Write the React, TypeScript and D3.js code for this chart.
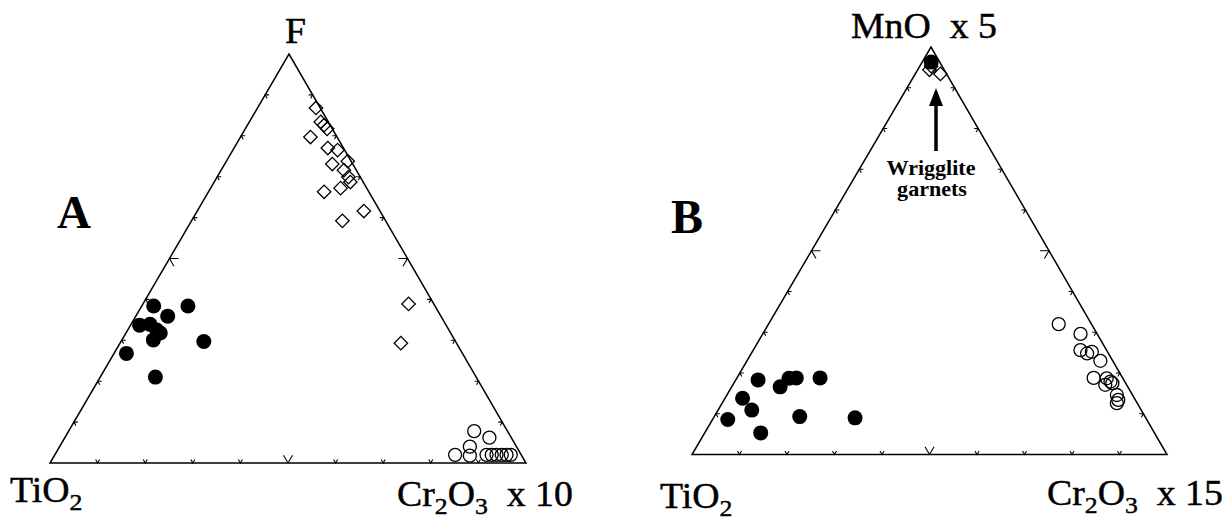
import React from "react";
import * as d3 from "d3";

// Compositions in percent: [TiO2, Cr2O3, top apex component]
// Panel A: top apex is F
const aDiamonds: number[][] = [
  [0.9, 12.3, 86.8], [1.6, 15.0, 83.4], [1.3, 16.1, 82.6], [1.1, 17.2, 81.7],
  [5.6, 14.7, 79.7], [3.3, 19.7, 77.0], [1.5, 22.0, 76.5], [0.7, 25.5, 73.8],
  [4.3, 22.6, 73.1], [2.6, 25.8, 71.6], [2.5, 27.6, 69.9], [2.7, 28.6, 68.7],
  [5.5, 27.3, 67.2], [9.4, 24.3, 66.3], [3.4, 35.0, 61.6], [9.1, 31.7, 59.2],
  [5.3, 55.8, 38.9], [11.7, 59.0, 29.3],
];
const aFilled: number[][] = [
  [59.1, 2.5, 38.4], [51.9, 9.7, 38.4], [57.4, 6.7, 35.9], [64.4, 1.9, 33.7],
  [62.1, 4.0, 33.9], [61.4, 6.1, 32.5], [61.0, 7.2, 31.8], [63.3, 6.6, 30.1],
  [52.9, 17.4, 29.7], [70.6, 2.6, 26.8], [67.4, 11.6, 21.0],
];
const aOpen: number[][] = [
  [7.0, 85.2, 7.8], [4.6, 89.2, 6.2], [9.8, 86.2, 4.0], [13.9, 84.1, 2.0],
  [10.9, 87.3, 1.8], [7.3, 90.7, 2.0], [6.2, 91.8, 2.0], [5.2, 92.8, 2.0],
  [4.1, 93.9, 2.0], [3.1, 94.9, 2.0], [2.2, 95.8, 2.0],
];

// Panel B: top apex is MnO
const bDiamonds: number[][] = [
  [2.3, 2.4, 95.3], [3.1, 2.5, 94.4], [1.3, 5.3, 93.4],
];
const bFilled: number[][] = [
  [1.8, 1.9, 96.3],
  [77.0, 4.7, 18.3], [73.2, 10.2, 16.6], [70.3, 11.0, 18.7], [68.7, 12.5, 18.8],
  [63.7, 17.5, 18.8], [82.5, 3.7, 13.8], [82.0, 7.1, 10.9], [88.2, 3.2, 8.6],
  [72.7, 18.0, 9.3], [61.2, 29.8, 9.0], [82.9, 11.8, 5.3],
];
const bOpen: number[][] = [
  [6.9, 61.1, 32.0], [3.5, 66.9, 29.6], [5.5, 68.9, 25.6], [4.5, 70.7, 24.8],
  [3.3, 71.5, 25.2], [2.6, 74.4, 23.0], [6.1, 75.1, 18.8], [3.4, 77.9, 18.7],
  [3.0, 79.1, 17.9], [2.8, 79.7, 17.5], [4.5, 78.4, 17.1], [3.3, 82.1, 14.6],
  [3.6, 83.0, 13.4], [4.3, 83.1, 12.6],
];

const tickSteps = [10, 20, 30, 40, 50, 60, 70, 80, 90];

type Pt = [number, number];
type Tri = { L: Pt; R: Pt; T: Pt };

const triA: Tri = { L: [50, 463], R: [526, 463], T: [289, 54] };
const triB: Tri = { L: [692, 454.5], R: [1167, 454.5], T: [931, 47] };

// Barycentric projection built from linear scales along the two edges from L
function projector(tri: Tri) {
  const rx = d3.scaleLinear().domain([0, 100]).range([0, tri.R[0] - tri.L[0]]);
  const ry = d3.scaleLinear().domain([0, 100]).range([0, tri.R[1] - tri.L[1]]);
  const tx = d3.scaleLinear().domain([0, 100]).range([0, tri.T[0] - tri.L[0]]);
  const ty = d3.scaleLinear().domain([0, 100]).range([0, tri.T[1] - tri.L[1]]);
  return (c: number[]): Pt => {
    const s = c[0] + c[1] + c[2];
    const r = (c[1] / s) * 100;
    const t = (c[2] / s) * 100;
    return [tri.L[0] + rx(r) + tx(t), tri.L[1] + ry(r) + ty(t)];
  };
}

function unit(a: Pt, b: Pt): Pt {
  const dx = b[0] - a[0];
  const dy = b[1] - a[1];
  const l = Math.hypot(dx, dy);
  return [dx / l, dy / l];
}

function Ternary({ tri, diamonds, filled, open, rFilled, rOpen }: {
  tri: Tri; diamonds: number[][]; filled: number[][]; open: number[][]; rFilled: number; rOpen: number;
}) {
  const proj = projector(tri);
  const { L, R, T } = tri;
  const outline = d3.line()([L, R, T, L] as [number, number][]) + "Z";

  // Each edge: start, end, and two inward directions along the other grid lines
  const edges: { a: Pt; b: Pt; d1: Pt; d2: Pt }[] = [
    { a: L, b: R, d1: unit(L, T), d2: unit(R, T) },
    { a: L, b: T, d1: unit(L, R), d2: unit(T, R) },
    { a: R, b: T, d1: unit(R, L), d2: unit(T, L) },
  ];
  const tickPaths: string[] = [];
  edges.forEach((e) => {
    const sx = d3.scaleLinear().domain([0, 100]).range([e.a[0], e.b[0]]);
    const sy = d3.scaleLinear().domain([0, 100]).range([e.a[1], e.b[1]]);
    tickSteps.forEach((k) => {
      const x = sx(k);
      const y = sy(k);
      const len = k === 50 ? 9 : 4;
      tickPaths.push(
        `M${x + e.d1[0] * len},${y + e.d1[1] * len}L${x},${y}L${x + e.d2[0] * len},${y + e.d2[1] * len}`
      );
    });
  });

  const diamond = d3.symbol(d3.symbolSquare, 90)();

  return (
    <g>
      <path d={outline} fill="none" stroke="#000" strokeWidth={1.5} strokeLinejoin="miter" />
      <path d={tickPaths.join("")} fill="none" stroke="#000" strokeWidth={1.1} />
      {diamonds.map((c, i) => {
        const [x, y] = proj(c);
        return (
          <path key={"d" + i} d={diamond ?? ""} transform={`translate(${x},${y}) rotate(45)`}
            fill="none" stroke="#000" strokeWidth={1.3} />
        );
      })}
      {open.map((c, i) => {
        const [x, y] = proj(c);
        return <circle key={"o" + i} cx={x} cy={y} r={rOpen} fill="none" stroke="#000" strokeWidth={1.3} />;
      })}
      {filled.map((c, i) => {
        const [x, y] = proj(c);
        return <circle key={"f" + i} cx={x} cy={y} r={rFilled} fill="#000" />;
      })}
    </g>
  );
}

const serif = "'Liberation Serif', 'Times New Roman', serif";

function Formula({ x, y, parts, size = 35 }: { x: number; y: number; parts: (string | [string])[]; size?: number }) {
  // plain strings sit on the baseline, one-element arrays are subscripts
  let shifted = false;
  const shift = 8;
  return (
    <text x={0} y={0} transform={`translate(${x},${y}) scale(1.08,1)`} fontFamily={serif} fontSize={size}
      stroke="#000" strokeWidth={0.45} style={{ whiteSpace: "pre" }}>
      {parts.map((p, i) => {
        if (Array.isArray(p)) {
          const dy = shifted ? 0 : shift;
          shifted = true;
          return <tspan key={i} dy={dy} fontSize={size * 0.68}>{p[0]}</tspan>;
        }
        const dy = shifted ? -shift : 0;
        shifted = false;
        return <tspan key={i} dy={dy}>{p}</tspan>;
      })}
    </text>
  );
}

export default function App() {
  const ax = triB.T[0] + 5;
  return (
    <svg width={1226} height={521} viewBox="0 0 1226 521"
      style={{ position: "absolute", left: 0, top: 0, background: "#fff", display: "block" }}>
      <rect width={1226} height={521} fill="#fff" />
      <Ternary tri={triA} diamonds={aDiamonds} filled={aFilled} open={aOpen} rFilled={7.5} rOpen={6.5} />
      <Ternary tri={triB} diamonds={bDiamonds} filled={bFilled} open={bOpen} rFilled={7.5} rOpen={6.5} />

      {/* Panel A labels */}
      <text x={57} y={228} fontFamily={serif} fontWeight="bold" fontSize={47}>A</text>
      <Formula x={285} y={43} parts={["F"]} />
      <Formula x={10} y={502} parts={["TiO", ["2"]]} />
      <Formula x={397} y={506} parts={["Cr", ["2"], "O", ["3"], "  x 10"]} />

      {/* Panel B labels */}
      <text x={671} y={233} fontFamily={serif} fontWeight="bold" fontSize={48}>B</text>
      <Formula x={851} y={38} parts={["MnO  x 5"]} />
      <Formula x={660} y={508} parts={["TiO", ["2"]]} />
      <Formula x={1047} y={505} parts={["Cr", ["2"], "O", ["3"], "  x 15"]} />

      {/* Annotation for the garnets at the MnO apex */}
      <line x1={ax} y1={151} x2={ax} y2={100} stroke="#000" strokeWidth={3.5} />
      <path d={`M${ax},88L${ax - 7},106L${ax + 7},106Z`} fill="#000" />
      <text x={931} y={175} textAnchor="middle" fontFamily={serif} fontWeight="bold" fontSize={21}
        transform="translate(931,0) scale(1.05,1) translate(-931,0)">Wrigglite</text>
      <text x={932} y={196} textAnchor="middle" fontFamily={serif} fontWeight="bold" fontSize={21}
        transform="translate(932,0) scale(1.05,1) translate(-932,0)">garnets</text>
    </svg>
  );
}
